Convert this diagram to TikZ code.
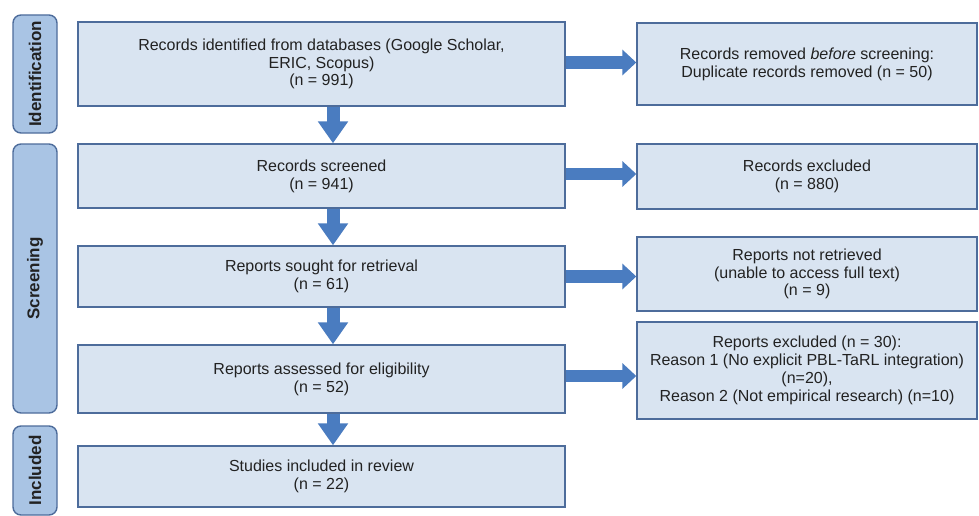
\documentclass[tikz,border=0pt]{standalone}
\usepackage{fontspec}
\setmainfont{Liberation Sans}
\usetikzlibrary{arrows.meta}
\definecolor{boxfill}{HTML}{D9E4F1}
\definecolor{boxline}{HTML}{4D6C9B}
\definecolor{sidefill}{HTML}{A9C4E4}
\definecolor{arrowfill}{HTML}{4A7CC0}
\definecolor{txt}{HTML}{222222}
\tikzset{
  box/.style={draw=boxline, fill=boxfill, line width=1.4pt, align=center,
    inner sep=2pt, text=txt, font=\fontsize{16}{17.8}\selectfont},
  side/.style={draw=boxline, fill=sidefill, line width=1.4pt, rounded corners=8pt,
    inner sep=0pt},
  sidetext/.style={rotate=90, text=txt, font=\fontsize{17}{20}\selectfont\bfseries},
  varrow/.style={draw=arrowfill, line width=13pt, -{Triangle[width=29pt,length=22pt]}},
  harrow/.style={draw=arrowfill, line width=12.5pt, -{Triangle[width=25pt,length=14pt]}},
}
\begin{document}
\begin{tikzpicture}[x=1pt,y=-1pt]
\useasboundingbox[fill=white] (0,0) rectangle (979,516);
% side labels
\node[side, minimum width=44pt, minimum height=118pt] (sid) at (35,74) {};
\node[sidetext] (sidt) at (sid.center) {Identification};
\node[side, minimum width=44pt, minimum height=269pt] (sscr) at (35,278.5) {};
\node[sidetext] (sscrt) at (sscr.center) {Screening};
\node[side, minimum width=44pt, minimum height=89pt] (sinc) at (35,470.5) {};
\node[sidetext] (sinct) at (sinc.center) {Included};
% main boxes
\node[box, minimum width=487pt, minimum height=84pt] (b1) at (321.5,64)
  {Records identified from databases (Google Scholar,\\ERIC, Scopus)\\(n = 991)};
\node[box, minimum width=487pt, minimum height=64pt] (b2) at (321.5,176)
  {Records screened\\(n = 941)};
\node[box, minimum width=487pt, minimum height=61pt] (b3) at (321.5,276.5)
  {Reports sought for retrieval\\(n = 61)};
\node[box, minimum width=487pt, minimum height=68pt] (b4) at (321.5,379)
  {Reports assessed for eligibility\\(n = 52)};
\node[box, minimum width=487pt, minimum height=61pt] (b5) at (321.5,476.5)
  {Studies included in review\\(n = 22)};
% right boxes
\node[box, minimum width=340pt, minimum height=82pt] (r1) at (807,64)
  {Records removed \textit{before} screening:\\Duplicate records removed (n = 50)};
\node[box, minimum width=340pt, minimum height=65pt] (r2) at (807,176.5)
  {Records excluded\\(n = 880)};
\node[box, minimum width=340pt, minimum height=74pt] (r3) at (807,274)
  {Reports not retrieved\\(unable to access full text)\\(n = 9)};
\node[box, minimum width=340pt, minimum height=97pt] (r4) at (807,370.5)
  {Reports excluded (n = 30):\\Reason 1 (No explicit PBL-TaRL integration)\\(n=20),\\Reason 2 (Not empirical research) (n=10)};
% vertical arrows
\draw[varrow] ([xshift=11.5pt]b1.south) -- ([xshift=11.5pt]b2.north);
\draw[varrow] ([xshift=11.5pt]b2.south) -- ([xshift=11.5pt]b3.north);
\draw[varrow] ([xshift=11.5pt]b3.south) -- ([xshift=11.5pt]b4.north);
\draw[varrow] ([xshift=11.5pt]b4.south) -- ([xshift=11.5pt]b5.north);
% horizontal arrows
\draw[harrow] ([yshift=1.5pt]b1.east) -- ([yshift=1.5pt]b1.east -| r1.west);
\draw[harrow] ([yshift=2pt]b2.east) -- ([yshift=2pt]b2.east -| r2.west);
\draw[harrow] (b3.east) -- (b3.east -| r3.west);
\draw[harrow] ([yshift=3pt]b4.east) -- ([yshift=3pt]b4.east -| r4.west);
\end{tikzpicture}
\end{document}
